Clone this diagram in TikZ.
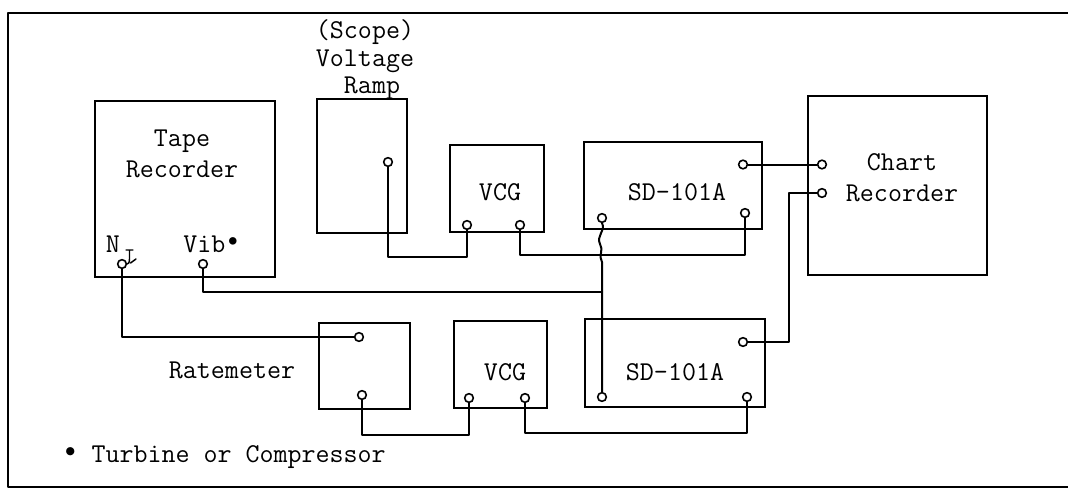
\documentclass[tikz,border=0pt]{standalone}
\usepackage{fontspec}
\newcommand{\tw}{\ttfamily\addfontfeatures{FakeBold=3}}
\begin{document}
\begin{tikzpicture}[x=0.75pt,y=-0.75pt,
  wire/.style={line width=1.5pt, line join=round, line cap=round},
  box/.style 2 args={draw, line width=1.6pt, inner sep=0pt, minimum width=#1*0.75pt, minimum height=#2*0.75pt},
  term/.style={circle, draw, line width=1.2pt, inner sep=0pt, minimum size=6.5pt, fill=white},
  lbl/.style={font=\tw\fontsize{20.4}{23.3}\selectfont, inner sep=0pt, align=center},
]
\useasboundingbox (0,0) rectangle (1068,493);
\fill[white] (0,0) rectangle (1068,493);
% frame
\draw[wire] (1075,13) -- (8,13) -- (8,487) -- (1075,487);

% boxes
\node[box={180}{176}] (tape)  at (185,189)   {};
\node[box={90}{134}]  (ramp)  at (362,166)   {};
\node[box={94}{87}]   (vcgA)  at (497,188.5) {};
\node[box={178}{87}]  (sdA)   at (673,185.5) {};
\node[box={179}{179}] (chart) at (897.5,185.5) {};
\node[box={91}{86}]   (rate)  at (364.5,366) {};
\node[box={93}{87}]   (vcgB)  at (500.5,364.5) {};
\node[box={180}{88}]  (sdB)   at (675,363)   {};

% labels
\node[lbl] (tapeT)  at (182,153.5) {Tape\\Recorder};
\node[lbl, font=\tw\fontsize{20.4}{20.6}\selectfont] (rampT) at (365,60) {(Scope)\\Voltage\\\hspace*{10.5pt}Ramp};
\node[lbl] (vcgAT)  at (500,192) {VCG};
\node[lbl] (sdAT)   at (677,192) {SD-101A};
\node[lbl] (chartT) at (902,177.5) {Chart\\Recorder};
\node[lbl] (rateT)  at (232,370) {Ratemeter};
\node[lbl] (vcgBT)  at (505,372) {VCG};
\node[lbl] (sdBT)   at (675,372) {SD-101A};
\node[lbl] (nT)     at (113,244) {N};
\node[lbl, anchor=west] (vibT) at (183,244) {Vib\raisebox{3pt}{\fontsize{22}{22}\selectfont\textbullet}};
\node[lbl, anchor=west] (foot) at (63,457) {\makebox[10.7pt]{\raisebox{2pt}{\fontsize{24}{24}\selectfont\textbullet}}\ Turbine or Compressor};

% terminals
\node[term] (tN)    at (122,264) {};
\node[term] (tVib)  at (203,264) {};
\node[term] (tRamp) at (388,162) {};
\node[term] (vAa)   at (467,225) {};
\node[term] (vAb)   at (520,225) {};
\node[term] (sAout) at (743,164.5) {};
\node[term] (sAin)  at (745,213) {};
\node[term] (sAx)   at (602,218) {};
\node[term] (cA)    at (822,164.5) {};
\node[term] (cB)    at (822,193) {};
\node[term] (rA)    at (359,337) {};
\node[term] (rB)    at (362,395) {};
\node[term] (vBa)   at (469,398) {};
\node[term] (vBb)   at (525,398) {};
\node[term] (sBout) at (743,342) {};
\node[term] (sBin)  at (747,397) {};
\node[term] (sBx)   at (602,397) {};

% wiring levels
\coordinate (lvA) at (0,257);
\coordinate (lvB) at (0,255);
\coordinate (lvE) at (0,435);
\coordinate (lvF) at (0,433);
\coordinate (jv)  at (602,292);
\coordinate (xr)  at (789,0);
\coordinate (hopEnd) at (602,262);

% wires
\draw[wire] (tN) |- (rA);
\draw[wire] (tVib) |- (jv);
\draw[wire] (tRamp) -- (tRamp |- lvA) -| (vAa);
\draw[wire] (vAb) -- (vAb |- lvB) -| (sAin);
\draw[wire] (sAout) -- (cA);
\draw[wire] (sBout) -| (xr |- cB) -- (cB);
\draw[wire] (rB) -- (rB |- lvE) -| (vBa);
\draw[wire] (vBb) -- (vBb |- lvF) -| (sBin);
\draw[wire] (sAx.south) .. controls (606,230) and (596,236) .. (600,244)
            .. controls (604,250) and (598,256) .. (hopEnd) -- (sBx);
% N mark
\draw[line width=1.1pt, line cap=round] (126,250) -- (133,250)
  (129.5,250) -- (129.5,259) .. controls (129.5,263) and (128,264) .. (tN.east)
  (130.5,263) -- (136,259);
\end{tikzpicture}
\end{document}
